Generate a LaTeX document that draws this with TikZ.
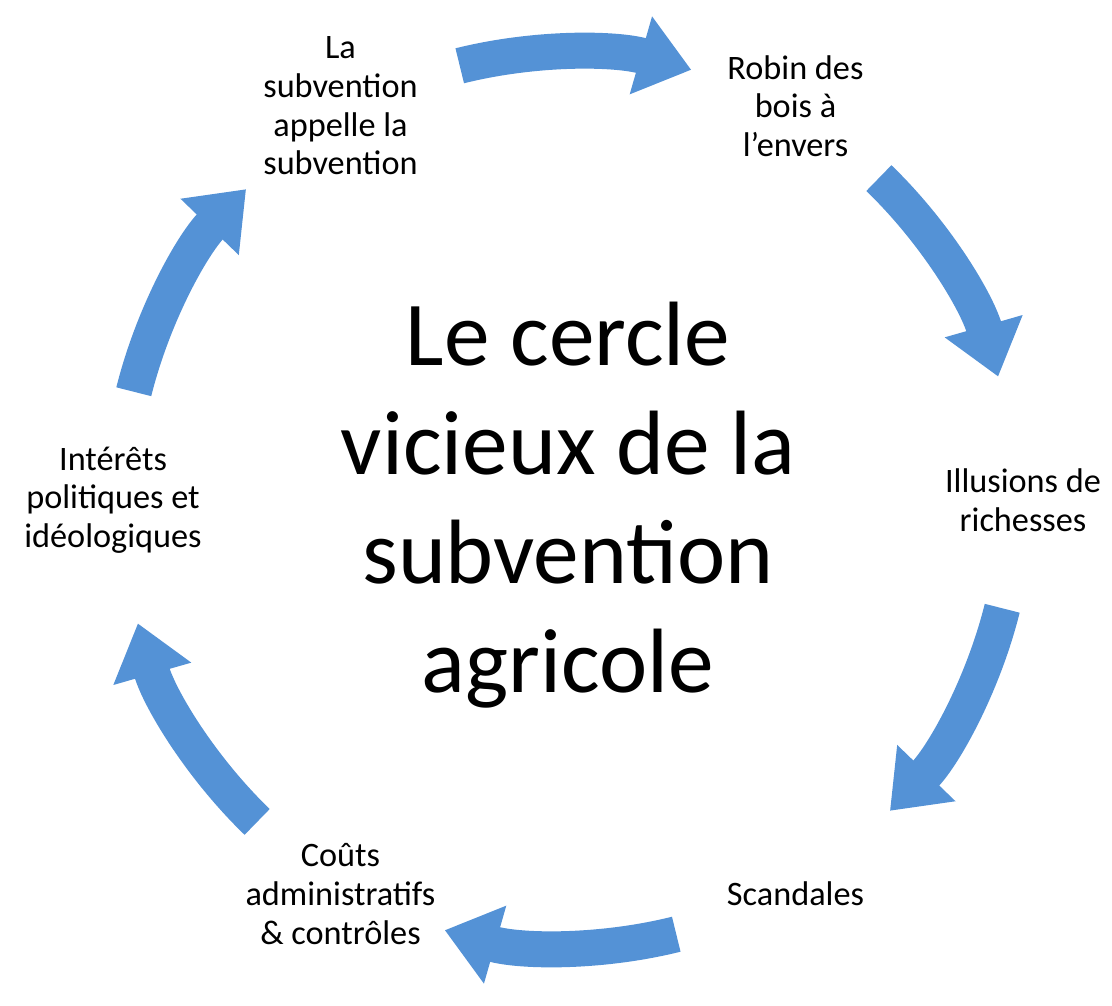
\documentclass[tikz,border=0pt]{standalone}
\usepackage{fontspec}
\setmainfont{Carlito}
\usetikzlibrary{arrows.meta, calc}

\begin{document}
\begin{tikzpicture}[
        stage/.style={align=center, font=\fontsize{19.5}{22}\selectfont},
        loop arrow/.style={line width=0.72cm, draw={rgb,255:red,84;green,146;blue,214},
            -{Triangle[length=1.05cm, width=1.55cm]}},
    ]
    \useasboundingbox (0,0) rectangle (22.24,-20.12);

        % Centre of the circle
        \coordinate (c) at (11.36,-10);
        \node[align=center, font=\fontsize{52}{62}\selectfont] (title) at ($(c)+(0,-0.1)$)
            {Le cercle\\vicieux de la\\subvention\\agricole};

        % The six stages
        \node[stage] (S-1) at ($(c)+(120:9.1)$) {La\\subvention\\appelle la\\subvention};
        \node[stage] (S-2) at ($(c)+(60:9.1)$) {Robin des\\bois à\\l’envers};
        \node[stage] (S-3) at ($(c)+(0:9.1)$) {Illusions de\\richesses};
        \node[stage] (S-4) at ($(c)+(-60:9.1)$) {Scandales};
        \node[stage] (S-5) at ($(c)+(-120:9.1)$) {Coûts\\administratifs\\\& contrôles};
        \node[stage] (S-6) at ($(c)+(180:9.1)$) {Intérêts\\politiques et\\idéologiques};

        % Arrows between the stages
        \foreach \a in {104, 46, -14, -76, -134, -194}
            \draw[loop arrow] ($(c)+(\a:8.95)$) arc[start angle=\a, end angle=\a-30, radius=8.95];
\end{tikzpicture}
\end{document}
